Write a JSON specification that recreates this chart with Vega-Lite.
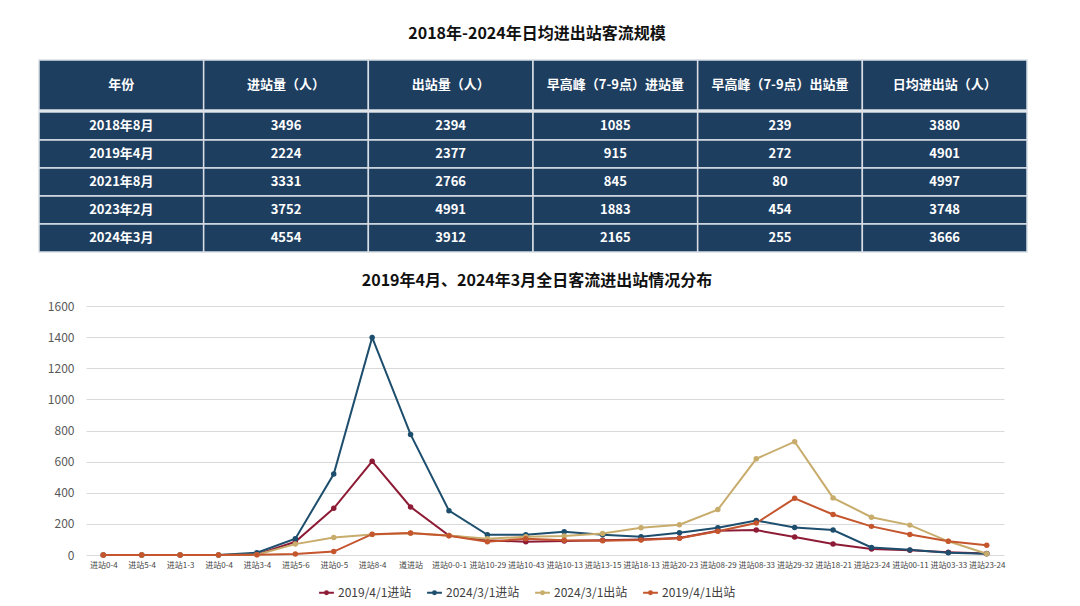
{
  "$schema": "https://vega.github.io/schema/vega-lite/v6.json",
  "background": "white",
  "padding": {"top": 26, "left": 38, "right": 10, "bottom": 0},
  "config": {
    "view": {"stroke": null},
    "font": "Noto Sans CJK SC",
    "title": {"fontSize": 16, "fontWeight": "bold", "color": "#111111", "anchor": "middle", "dx": -8}
  },
  "spacing": 20,
  "vconcat": [
    {
      "spacing": 0,
      "vconcat": [
        {
          "width": 918,
          "height": 50,
          "title": {"text": "2018年-2024年日均进出站客流规模", "offset": 17},
          "data": {"values": [
            {"col": "年份"},
            {"col": "进站量（人）"},
            {"col": "出站量（人）"},
            {"col": "早高峰（7-9点）进站量"},
            {"col": "早高峰（7-9点）出站量"},
            {"col": "日均进出站（人）"}
          ]},
          "encoding": {
            "x": {"field": "col", "type": "nominal", "sort": null, "axis": null,
                  "scale": {"range": [-47, 941], "paddingInner": 0, "paddingOuter": 0}}
          },
          "layer": [
            {"mark": {"type": "rect", "fill": "#1E3E60", "stroke": "#D8DEE5", "strokeWidth": 1.5}},
            {"mark": {"type": "text", "color": "white", "fontWeight": "bold", "fontSize": 13},
             "encoding": {"text": {"field": "col"}}}
          ]
        },
        {
          "width": 918,
          "height": 140,
          "data": {"values": [
            {"年份": "2018年8月", "进站量（人）": 3496, "出站量（人）": 2394, "早高峰（7-9点）进站量": 1085, "早高峰（7-9点）出站量": 239, "日均进出站（人）": 3880},
            {"年份": "2019年4月", "进站量（人）": 2224, "出站量（人）": 2377, "早高峰（7-9点）进站量": 915, "早高峰（7-9点）出站量": 272, "日均进出站（人）": 4901},
            {"年份": "2021年8月", "进站量（人）": 3331, "出站量（人）": 2766, "早高峰（7-9点）进站量": 845, "早高峰（7-9点）出站量": 80, "日均进出站（人）": 4997},
            {"年份": "2023年2月", "进站量（人）": 3752, "出站量（人）": 4991, "早高峰（7-9点）进站量": 1883, "早高峰（7-9点）出站量": 454, "日均进出站（人）": 3748},
            {"年份": "2024年3月", "进站量（人）": 4554, "出站量（人）": 3912, "早高峰（7-9点）进站量": 2165, "早高峰（7-9点）出站量": 255, "日均进出站（人）": 3666}
          ]},
          "transform": [
            {"fold": ["年份", "进站量（人）", "出站量（人）", "早高峰（7-9点）进站量", "早高峰（7-9点）出站量", "日均进出站（人）"],
             "as": ["col", "val"]}
          ],
          "encoding": {
            "x": {"field": "col", "type": "nominal", "axis": null,
                  "scale": {"domain": ["年份", "进站量（人）", "出站量（人）", "早高峰（7-9点）进站量", "早高峰（7-9点）出站量", "日均进出站（人）"],
                            "range": [-47, 941], "paddingInner": 0, "paddingOuter": 0}},
            "y": {"field": "年份", "type": "nominal", "sort": null, "axis": null,
                  "scale": {"paddingInner": 0, "paddingOuter": 0}}
          },
          "layer": [
            {"mark": {"type": "rect", "fill": "#1E3E60", "stroke": "#D8DEE5", "strokeWidth": 1.5}},
            {"mark": {"type": "text", "color": "white", "fontWeight": "bold", "fontSize": 13},
             "encoding": {"text": {"field": "val"}}}
          ]
        }
      ]
    },
    {
      "width": 918,
      "height": 249,
      "title": {"text": "2019年4月、2024年3月全日客流进出站情况分布", "offset": 11},
      "data": {"values": [
        {"t": 1, "2019/4/1进站": 0, "2024/3/1进站": 0, "2024/3/1出站": 0, "2019/4/1出站": 0},
        {"t": 2, "2019/4/1进站": 0, "2024/3/1进站": 0, "2024/3/1出站": 0, "2019/4/1出站": 0},
        {"t": 3, "2019/4/1进站": 0, "2024/3/1进站": 0, "2024/3/1出站": 0, "2019/4/1出站": 0},
        {"t": 4, "2019/4/1进站": 0, "2024/3/1进站": 0, "2024/3/1出站": 0, "2019/4/1出站": 0},
        {"t": 5, "2019/4/1进站": 4, "2024/3/1进站": 15, "2024/3/1出站": 2, "2019/4/1出站": 2},
        {"t": 6, "2019/4/1进站": 85, "2024/3/1进站": 105, "2024/3/1出站": 70, "2019/4/1出站": 6},
        {"t": 7, "2019/4/1进站": 300, "2024/3/1进站": 520, "2024/3/1出站": 112, "2019/4/1出站": 22},
        {"t": 8, "2019/4/1进站": 602, "2024/3/1进站": 1398, "2024/3/1出站": 132, "2019/4/1出站": 134},
        {"t": 9, "2019/4/1进站": 309, "2024/3/1进站": 775, "2024/3/1出站": 140, "2019/4/1出站": 142},
        {"t": 10, "2019/4/1进站": 125, "2024/3/1进站": 285, "2024/3/1出站": 125, "2019/4/1出站": 124},
        {"t": 11, "2019/4/1进站": 95, "2024/3/1进站": 130, "2024/3/1出站": 105, "2019/4/1出站": 85},
        {"t": 12, "2019/4/1进站": 85, "2024/3/1进站": 130, "2024/3/1出站": 117, "2019/4/1出站": 105},
        {"t": 13, "2019/4/1进站": 90, "2024/3/1进站": 150, "2024/3/1出站": 122, "2019/4/1出站": 95},
        {"t": 14, "2019/4/1进站": 95, "2024/3/1进站": 130, "2024/3/1出站": 138, "2019/4/1出站": 92},
        {"t": 15, "2019/4/1进站": 100, "2024/3/1进站": 118, "2024/3/1出站": 175, "2019/4/1出站": 96},
        {"t": 16, "2019/4/1进站": 110, "2024/3/1进站": 143, "2024/3/1出站": 195, "2019/4/1出站": 108},
        {"t": 17, "2019/4/1进站": 156, "2024/3/1进站": 175, "2024/3/1出站": 292, "2019/4/1出站": 152},
        {"t": 18, "2019/4/1进站": 160, "2024/3/1进站": 222, "2024/3/1出站": 618, "2019/4/1出站": 205},
        {"t": 19, "2019/4/1进站": 115, "2024/3/1进站": 177, "2024/3/1出站": 728, "2019/4/1出站": 364},
        {"t": 20, "2019/4/1进站": 70, "2024/3/1进站": 160, "2024/3/1出站": 367, "2019/4/1出站": 260},
        {"t": 21, "2019/4/1进站": 38, "2024/3/1进站": 48, "2024/3/1出站": 243, "2019/4/1出站": 184},
        {"t": 22, "2019/4/1进站": 30, "2024/3/1进站": 33, "2024/3/1出站": 192, "2019/4/1出站": 132},
        {"t": 23, "2019/4/1进站": 17, "2024/3/1进站": 15, "2024/3/1出站": 88, "2019/4/1出站": 88},
        {"t": 24, "2019/4/1进站": 9, "2024/3/1进站": 8, "2024/3/1出站": 8, "2019/4/1出站": 62}
      ]},
      "transform": [
        {"fold": ["2019/4/1进站", "2024/3/1进站", "2024/3/1出站", "2019/4/1出站"], "as": ["series", "v"]}
      ],
      "mark": {"type": "line", "strokeWidth": 2, "point": {"filled": true, "size": 30}},
      "encoding": {
        "x": {
          "field": "t", "type": "ordinal",
          "scale": {"padding": 0.45},
          "axis": {
            "title": null,
            "labelExpr": "['进站0-4','进站5-4','进站1-3','进站0-4','进站3-4','进站5-6','进站0-5','进站8-4','道进站','进站0-0-1','进站10-29','进站10-43','进站10-13','进站13-15','进站18-13','进站20-23','进站08-29','进站08-33','进站29-32','进站18-21','进站23-24','进站00-11','进站03-33','进站23-24'][datum.value - 1]",
            "labelAngle": 0, "labelFontSize": 8, "labelColor": "#444444",
            "domain": false, "ticks": false, "labelPadding": 6,
            "labelOverlap": false, "labelBound": false, "labelFlush": false
          }
        },
        "y": {
          "field": "v", "type": "quantitative",
          "scale": {"domain": [0, 1600]},
          "axis": {
            "title": null, "values": [0, 200, 400, 600, 800, 1000, 1200, 1400, 1600], "format": "d",
            "grid": true, "gridColor": "#D9D9D9", "gridWidth": 1,
            "domain": false, "ticks": false,
            "labelFontSize": 12, "labelColor": "#595959", "labelPadding": 12,
            "minExtent": 47, "maxExtent": 47
          }
        },
        "color": {
          "field": "series", "type": "nominal",
          "scale": {
            "domain": ["2019/4/1进站", "2024/3/1进站", "2024/3/1出站", "2019/4/1出站"],
            "range": ["#8E1B35", "#1D4E6D", "#C8AC6C", "#C4552D"]
          },
          "legend": {
            "orient": "none", "legendX": 232, "legendY": 524,
            "title": null, "direction": "horizontal",
            "labelFontSize": 12, "labelColor": "#404040",
            "symbolType": "M-1,0H1M-0.2,0a0.2,0.2 0 1,0 0.4,0a0.2,0.2 0 1,0 -0.4,0",
            "symbolStrokeWidth": 2, "symbolSize": 220,
            "columnPadding": 11, "labelOffset": 3
          }
        }
      }
    }
  ]
}
